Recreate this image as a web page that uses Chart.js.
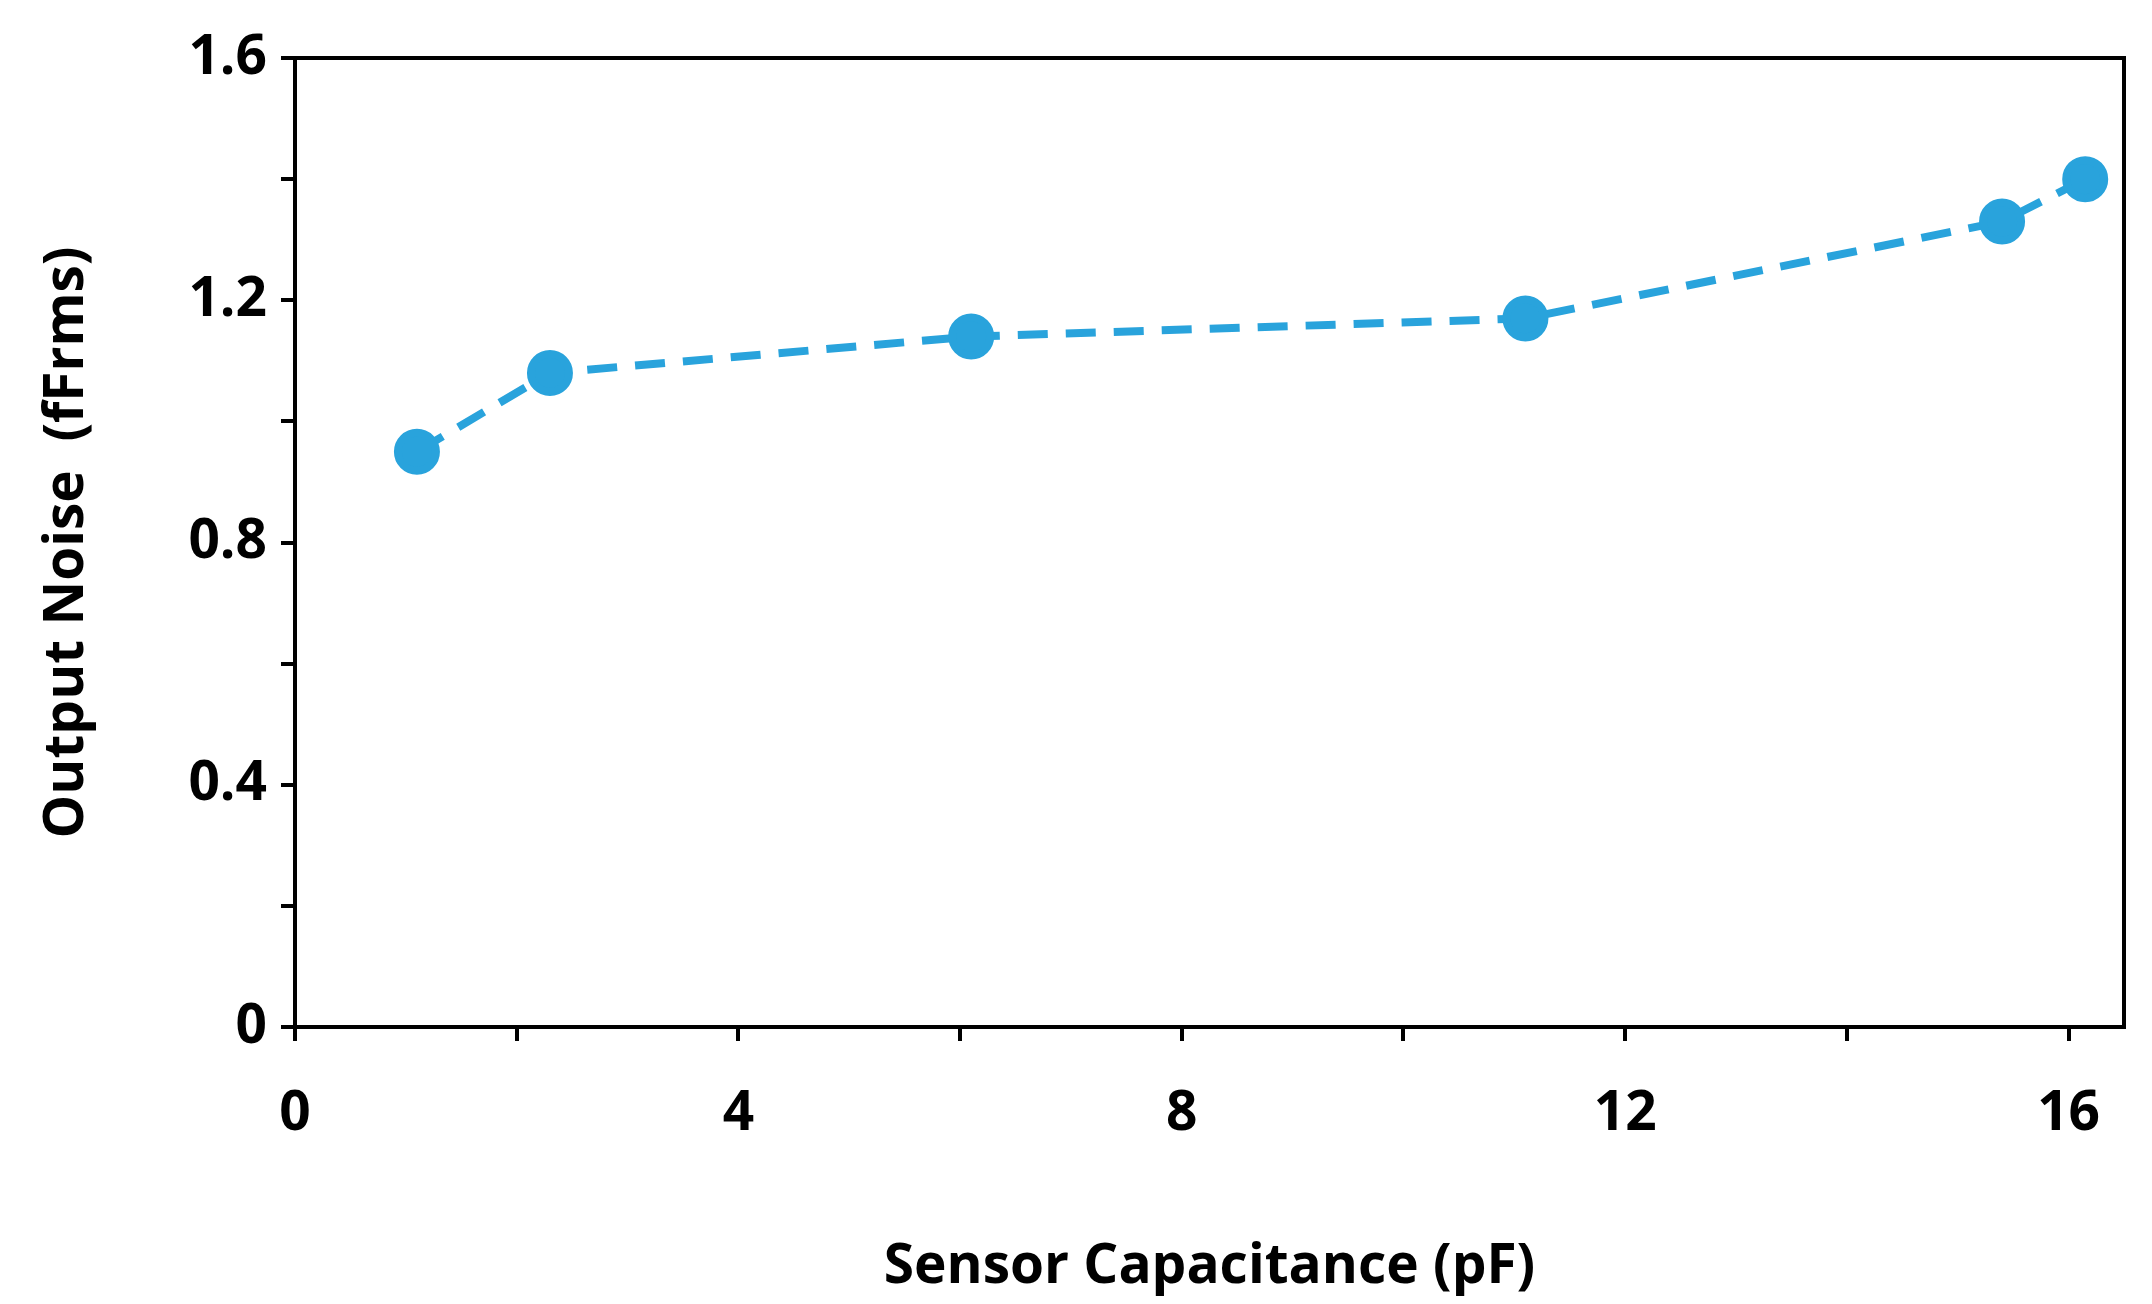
<!DOCTYPE html>
<html><head><meta charset="utf-8">
<script src="https://cdn.jsdelivr.net/npm/chart.js@4/dist/chart.umd.min.js"></script>
<style>html,body{margin:0;background:#fff}</style>
</head><body>
<canvas id="c" width="2152" height="1304"></canvas>
<script>
// values
const capacitance = [1.1, 2.3, 6.1, 11.1, 15.4, 16.15];
const noise = [0.95, 1.08, 1.14, 1.17, 1.33, 1.40];
const xTickLabels = ['0', '4', '8', '12', '16'];
const yTickLabels = ['0', '0.4', '0.8', '1.2', '1.6'];

const font = "'Open Sans', sans-serif";

// box around plot area
const frame = {
  id: 'frame',
  afterDraw(chart){
    const {ctx, chartArea:a} = chart;
    ctx.save();
    ctx.strokeStyle = '#000'; ctx.lineWidth = 4;
    ctx.strokeRect(a.left, a.top, a.right - a.left, a.bottom - a.top);
    ctx.restore();
  }
};

new Chart(document.getElementById('c').getContext('2d'), {
  type: 'scatter',
  data: { datasets: [{
    data: capacitance.map((x, i) => ({x, y: noise[i]})),
    showLine: true, borderColor: '#29a3dc', backgroundColor: '#29a3dc',
    borderWidth: 8, borderDash: [30, 18], pointRadius: 19, pointHoverRadius: 19
  }]},
  options: {
    responsive: false, devicePixelRatio: 1, animation: false,
    layout: { padding: { top: 58, right: 28, left: 30, bottom: 0 } },
    plugins: { legend: { display: false }, tooltip: { enabled: false } },
    scales: {
      x: {
        type: 'linear', min: 0, max: 16.5,
        afterBuildTicks(s){ s.ticks = [0,2,4,6,8,10,12,14,16].map(v => ({value: v})); },
        afterFit(s){ s.height = 277; },
        border: { color: '#000', width: 4 },
        grid: { drawOnChartArea: false, color: '#000', lineWidth: 4, tickLength: 14 },
        ticks: { color: '#000', font: { family: font, size: 55, weight: 'bold' }, padding: 40, maxRotation: 0,
          callback: v => (v % 4 === 0 ? xTickLabels[v / 4] : '') },
        title: { display: true, text: 'Sensor Capacitance (pF)', color: '#000',
          font: { family: font, size: 55, weight: 'bold' }, padding: { top: 14 } }
      },
      y: {
        min: 0, max: 1.6,
        afterBuildTicks(s){ s.ticks = [0,0.2,0.4,0.6,0.8,1.0,1.2,1.4,1.6].map(v => ({value: v})); },
        afterFit(s){ s.width = 265; },
        border: { color: '#000', width: 4 },
        grid: { drawOnChartArea: false, color: '#000', lineWidth: 4, tickLength: 14 },
        ticks: { color: '#000', font: { family: font, size: 55, weight: 'bold' }, padding: 14,
          callback: v => { const k = Math.round(v / 0.4 * 1000) / 1000; return Number.isInteger(k) ? yTickLabels[k] : ''; } },
        title: { display: true, text: 'Output Noise  (fFrms)', color: '#000',
          font: { family: font, size: 55, weight: 'bold' }, padding: { bottom: 10 } }
      }
    }
  },
  plugins: [frame]
});
</script>
</body></html>
